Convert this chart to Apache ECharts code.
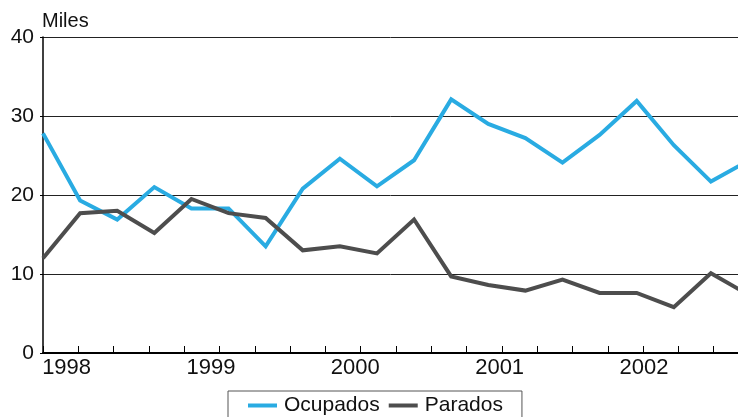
<!DOCTYPE html>
<html>
<head>
<meta charset="utf-8">
<script src="https://cdn.jsdelivr.net/npm/echarts@6/dist/echarts.min.js"></script>
<style>
html,body{margin:0;padding:0;background:#fff;}
#chart{width:738px;height:417px;}
</style>
</head>
<body>
<div id="chart"></div>
<script>
// Quarterly observations (index 0 = first quarter of 1998)
var quarters = ['1998T1','1998T2','1998T3','1998T4','1999T1','1999T2','1999T3','1999T4','2000T1','2000T2','2000T3','2000T4','2001T1','2001T2','2001T3','2001T4','2002T1','2002T2','2002T3','2002T4'];
var ocupados = [27.8, 19.3, 16.9, 21.0, 18.3, 18.3, 13.5, 20.8, 24.6, 21.1, 24.4, 32.1, 29.0, 27.2, 24.1, 27.6, 31.9, 26.3, 21.7, 24.3];
var parados  = [12.0, 17.7, 18.0, 15.2, 19.5, 17.7, 17.1, 13.0, 13.5, 12.6, 16.9, 9.7, 8.6, 7.9, 9.3, 7.6, 7.6, 5.8, 10.1, 7.4];
var yearLabels = ['1998', '1999', '2000', '2001', '2002'];
var yTicks = [0, 10, 20, 30, 40];

var FONT = '"Liberation Sans", Arial, Helvetica, sans-serif';
function pairs(arr){ return arr.map(function(v,i){ return [i, v]; }); }

// layout helpers (axis geometry, not data)
var labelStart = 0.636, labelStep = 3.89;
var labelVals = yearLabels.map(function(_, i){ return labelStart + i * labelStep; });

var chart = echarts.init(document.getElementById('chart'), null, {renderer:'canvas'});
chart.setOption({
  animation: false,
  backgroundColor: '#ffffff',
  title: {
    text: 'Miles', left: 42, top: 11, padding: 0,
    textStyle: {fontFamily: FONT, fontSize: 20, fontWeight: 'normal', color: '#111'}
  },
  legend: {
    left: 228, top: 391,
    padding: [4, 19, 12, 20],
    itemGap: 9,
    itemWidth: 29, itemHeight: 4,
    icon: 'rect',
    borderColor: '#555', borderWidth: 1,
    backgroundColor: '#fff',
    textStyle: {fontFamily: FONT, fontSize: 21, color: '#111', padding: [0,0,0,2]},
    data: ['Ocupados', 'Parados']
  },
  grid: {left: 43, right: 0, top: 37, bottom: 64},
  xAxis: [
    {
      type: 'value', min: 0, max: 18.73,
      axisLine: {show: true, lineStyle: {color: '#000', width: 2}},
      axisTick: {show: false},
      axisLabel: {
        customValues: labelVals, margin: 4,
        fontFamily: FONT, fontSize: 22, color: '#111',
        formatter: function(v){ return yearLabels[Math.round((v - labelStart) / labelStep)]; }
      },
      splitLine: {show: false}
    },
    {
      type: 'value', min: 0, max: 19.69, interval: 1, position: 'bottom',
      axisLine: {show: false},
      axisTick: {show: true, inside: true, length: 7, lineStyle: {color: '#000', width: 1}},
      axisLabel: {show: false},
      splitLine: {show: false}
    }
  ],
  yAxis: {
    type: 'value', min: 0, max: 40, interval: 10,
    axisLine: {show: true, lineStyle: {color: '#000', width: 1.5}},
    axisTick: {show: true, length: 3, lineStyle: {color: '#000'}},
    axisLabel: {
      margin: 9, fontFamily: FONT, fontSize: 21, color: '#111',
      formatter: function(v){ return yTicks.indexOf(v) >= 0 ? String(v) : ''; }
    },
    splitLine: {show: true, lineStyle: {color: '#222', width: 1}}
  },
  series: [
    {
      name: 'Ocupados', type: 'line', data: pairs(ocupados), xAxisIndex: 0,
      showSymbol: false, symbol: 'none', clip: true,
      lineStyle: {color: '#29abe2', width: 4, join: 'miter'},
      itemStyle: {color: '#29abe2'}, z: 3
    },
    {
      name: 'Parados', type: 'line', data: pairs(parados), xAxisIndex: 0,
      showSymbol: false, symbol: 'none', clip: true,
      lineStyle: {color: '#4d4d4d', width: 4, join: 'miter'},
      itemStyle: {color: '#4d4d4d'}, z: 4
    }
  ]
});
</script>
</body>
</html>
